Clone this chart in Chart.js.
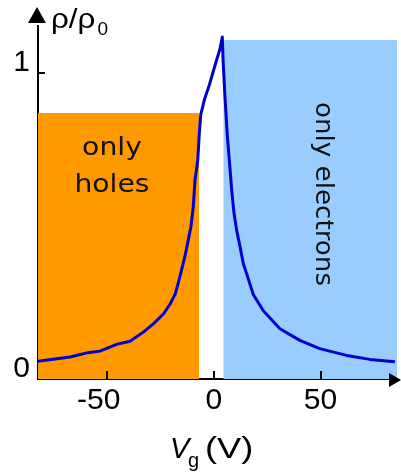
<!DOCTYPE html>
<html>
<head>
<meta charset="utf-8">
<script src="https://cdn.jsdelivr.net/npm/chart.js@4.4.0/dist/chart.umd.min.js"></script>
<style>
  html, body { margin: 0; padding: 0; background: #fff; }
  #wrap { width: 401px; height: 474px; }
</style>
</head>
<body>
<div id="wrap"><canvas id="myChart" width="401" height="474"></canvas></div>
<script>
// gate voltage (V) and rho/rho0
const vg = [-82.3, -74.3, -67.3, -58.8, -53.3, -45.5, -39.2, -33.0, -28.3, -23.6,
            -20.5, -18.1, -16.6, -15.0, -13.5, -11.9, -10.7, -9.6, -8.8, -7.5,
            -6.8, -6.1, -4.4, -2.1, 0.6, 2.9, 4.0,
            4.4, 5.2, 6.3, 7.3, 8.4, 9.5, 10.7, 12.3, 13.8, 16.2,
            18.5, 23.2, 31.0, 40.3, 49.6, 62.2, 73.1, 84.8];
const rho = [0.058, 0.065, 0.072, 0.086, 0.091, 0.113, 0.123, 0.153, 0.180, 0.212,
             0.244, 0.276, 0.314, 0.358, 0.400, 0.455, 0.497, 0.561, 0.648, 0.713,
             0.798, 0.862, 0.911, 0.959, 1.024, 1.077, 1.116,
             1.035, 0.927, 0.798, 0.713, 0.616, 0.540, 0.486, 0.432, 0.378, 0.326,
             0.276, 0.223, 0.164, 0.126, 0.099, 0.077, 0.064, 0.056];

// shaded regions: [from, to] in V, and their height
const holesRange = [-82.3, -6.9];
const holesTop = 0.868;
const electronsRange = [4.45, 85.8];
const electronsTop = 1.106;

const xTicks = [-50, 0, 50];
const yTicks = [0, 1];

const curve = vg.map((v, i) => ({ x: v, y: rho[i] }));

function band(range, top) {
    return [{ x: range[0], y: top }, { x: range[1], y: top }];
}

// arrows, inward ticks, axis titles and the two region labels
const extras = {
    id: 'extras',
    afterDraw(chart) {
        const { ctx, chartArea: a, scales: { x, y } } = chart;
        ctx.save();
        ctx.fillStyle = '#000';
        ctx.strokeStyle = '#000';

        // arrow heads
        ctx.beginPath();
        ctx.moveTo(a.left - 1, 7);
        ctx.lineTo(a.left - 10, 23);
        ctx.lineTo(a.left + 8, 23);
        ctx.closePath();
        ctx.fill();
        ctx.beginPath();
        ctx.moveTo(401, a.bottom + 1);
        ctx.lineTo(389, a.bottom - 6);
        ctx.lineTo(389, a.bottom + 8);
        ctx.closePath();
        ctx.fill();

        // ticks pointing into the plot
        ctx.lineWidth = 2;
        xTicks.forEach(v => {
            const px = Math.round(x.getPixelForValue(v));
            ctx.beginPath();
            ctx.moveTo(px, a.bottom);
            ctx.lineTo(px, a.bottom - 8);
            ctx.stroke();
        });
        yTicks.filter(v => v !== 0).forEach(v => {
            const py = Math.round(y.getPixelForValue(v));
            ctx.beginPath();
            ctx.moveTo(a.left, py);
            ctx.lineTo(a.left + 7, py);
            ctx.stroke();
        });

        // y title  rho/rho0
        ctx.textAlign = 'left';
        ctx.textBaseline = 'alphabetic';
        ctx.font = '28px "Liberation Sans"';
        const w = ctx.measureText('ρ/ρ').width * 1.12;
        ctx.save();
        ctx.translate(51, 27.5);
        ctx.scale(1.12, 1);
        ctx.fillText('ρ/ρ', 0, 0);
        ctx.restore();
        ctx.font = '19px "Liberation Sans"';
        ctx.fillText('0', 51 + w + 2, 35);

        // x title  Vg (V)
        ctx.font = 'italic 29px "Liberation Sans"';
        ctx.fillText('V', 170, 458);
        ctx.font = '20px "Liberation Sans"';
        ctx.fillText('g', 188, 467);
        ctx.save();
        ctx.translate(205, 458);
        ctx.scale(1.25, 1);
        ctx.font = '29px "Liberation Sans"';
        ctx.fillText('(V)', 0, 0);
        ctx.restore();

        // region labels
        ctx.fillStyle = '#111';
        ctx.textAlign = 'center';
        ctx.save();
        ctx.translate(112, 0);
        ctx.scale(1.13, 1);
        ctx.font = '25px "DejaVu Sans"';
        ctx.fillText('only', 0, 155);
        ctx.fillText('holes', 0, 191.5);
        ctx.restore();

        ctx.save();
        ctx.translate(315.5, 194);
        ctx.rotate(Math.PI / 2);
        ctx.scale(1.09, 1);
        ctx.font = '24px "DejaVu Sans"';
        ctx.fillText('only electrons', 0, 0);
        ctx.restore();
        ctx.restore();
    }
};

const ctx = document.getElementById('myChart').getContext('2d');
const myChart = new Chart(ctx, {
    type: 'line',
    data: {
        datasets: [
            {
                label: 'rho',
                data: curve,
                borderColor: '#0000cc',
                borderWidth: 3,
                borderJoinStyle: 'round',
                pointRadius: 0,
                tension: 0,
                fill: false,
                order: 0
            },
            {
                label: 'only holes',
                data: band(holesRange, holesTop),
                borderWidth: 0,
                borderColor: 'rgba(0,0,0,0)',
                backgroundColor: '#ff9900',
                pointRadius: 0,
                fill: 'origin',
                order: 1
            },
            {
                label: 'only electrons',
                data: band(electronsRange, electronsTop),
                borderWidth: 0,
                borderColor: 'rgba(0,0,0,0)',
                backgroundColor: '#99ccff',
                pointRadius: 0,
                fill: 'origin',
                order: 1
            }
        ]
    },
    options: {
        responsive: false,
        animation: false,
        devicePixelRatio: 1,
        layout: {
            padding: { left: 0, right: 4, top: 22, bottom: 0 }
        },
        plugins: {
            legend: { display: false },
            tooltip: { enabled: false }
        },
        scales: {
            x: {
                type: 'linear',
                position: 'bottom',
                min: -82.3,
                max: 85.8,
                grid: { display: false, drawTicks: false },
                border: { display: true, color: '#000', width: 2 },
                ticks: {
                    color: '#000',
                    padding: 4,
                    font: { family: 'Liberation Sans', size: 30, lineHeight: 1.2 },
                    // the reference sets "-50" a little left of its tick
                    callback: v => (v < 0 ? v + '  ' : '' + v)
                },
                afterBuildTicks: s => { s.ticks = xTicks.map(v => ({ value: v })); },
                afterFit: s => { s.height = 95; }
            },
            y: {
                type: 'linear',
                min: 0,
                max: 1.152,
                grid: { display: false, drawTicks: false },
                border: { display: true, color: '#000', width: 2 },
                ticks: {
                    color: '#000',
                    padding: 8,
                    labelOffset: -10,
                    font: { family: 'Liberation Sans', size: 30, lineHeight: 1.2 }
                },
                afterBuildTicks: s => { s.ticks = yTicks.map(v => ({ value: v })); },
                afterFit: s => { s.width = 38; }
            }
        }
    },
    plugins: [extras]
});
</script>
</body>
</html>
